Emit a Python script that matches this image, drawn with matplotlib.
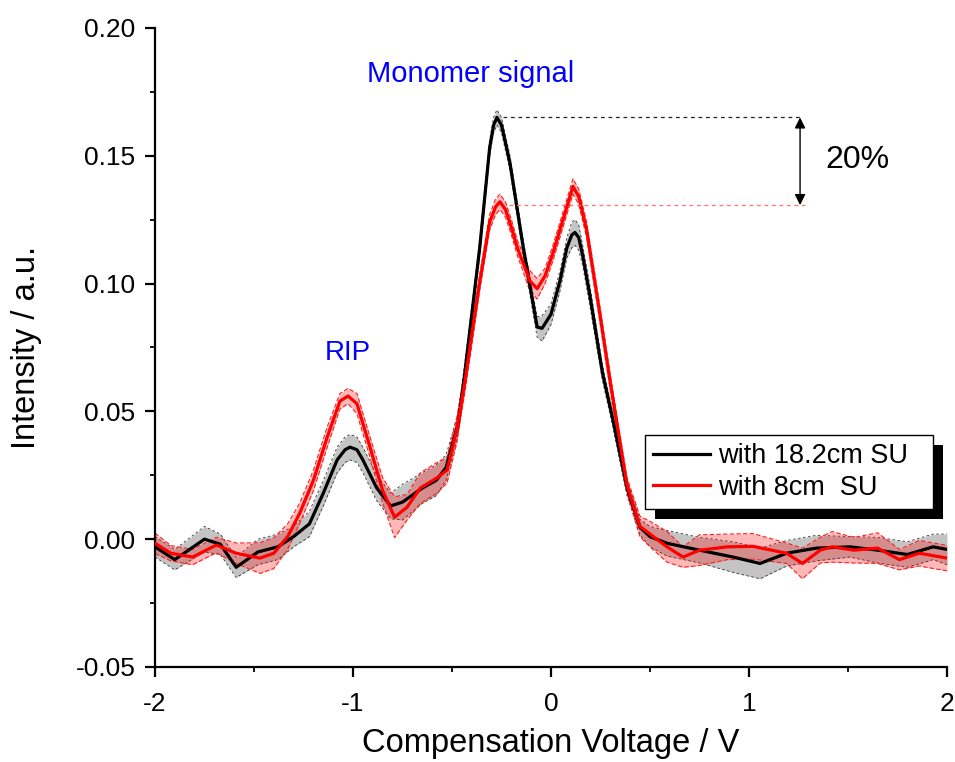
# CV scan: monomer signal with two separation unit lengths
import matplotlib
matplotlib.use("Agg")
from matplotlib import pyplot as plt
from matplotlib.patches import Rectangle
from matplotlib.transforms import IdentityTransform
from matplotlib.ticker import MultipleLocator, FormatStrFormatter
import numpy as np

plt.rcParams['font.family'] = ['Liberation Sans', 'DejaVu Sans']
plt.rcParams['axes.unicode_minus'] = False

# with 18.2cm SU (mean and spread)
black_x = [-2.00, -1.90, -1.75, -1.67, -1.59, -1.48, -1.38, -1.30, -1.22, -1.15,
           -1.08, -1.04, -1.015, -0.98, -0.95, -0.88, -0.81, -0.75, -0.65, -0.58,
           -0.53, -0.47, -0.44, -0.40, -0.36, -0.31, -0.29, -0.273, -0.25, -0.207,
           -0.14, -0.07, -0.045, 0.0, 0.045, 0.08, 0.105, 0.121, 0.14, 0.16,
           0.197, 0.26, 0.313, 0.384, 0.449, 0.50, 0.586, 0.75, 0.92, 1.056,
           1.19, 1.34, 1.51, 1.65, 1.80, 1.93, 2.00]
black_y = [-0.003, -0.008, 0.000, -0.002, -0.011, -0.005, -0.003, 0.001, 0.006, 0.018,
           0.031, 0.035, 0.036, 0.035, 0.031, 0.020, 0.013, 0.0145, 0.020, 0.023,
           0.028, 0.045, 0.062, 0.088, 0.114, 0.153, 0.162, 0.165, 0.162, 0.147,
           0.114, 0.083, 0.0825, 0.088, 0.101, 0.114, 0.119, 0.120, 0.118, 0.111,
           0.095, 0.065, 0.0466, 0.020, 0.0047, 0.001, -0.0016, -0.0043, -0.007, -0.0095,
           -0.0055, -0.0035, -0.003, -0.0043, -0.006, -0.003, -0.004]
black_sd = [0.004, 0.004, 0.005, 0.004, 0.004, 0.005, 0.005, 0.004, 0.005, 0.005,
            0.005, 0.005, 0.005, 0.005, 0.005, 0.005, 0.005, 0.007, 0.006, 0.006,
            0.005, 0.004, 0.004, 0.003, 0.003, 0.003, 0.003, 0.003, 0.003, 0.003,
            0.003, 0.004, 0.005, 0.004, 0.004, 0.004, 0.005, 0.005, 0.005, 0.004,
            0.004, 0.003, 0.003, 0.003, 0.003, 0.004, 0.005, 0.005, 0.006, 0.006,
            0.005, 0.005, 0.004, 0.005, 0.005, 0.005, 0.006]

# with 8cm SU (mean and spread)
red_x = [-2.00, -1.92, -1.81, -1.69, -1.59, -1.47, -1.40, -1.33, -1.27, -1.20,
         -1.13, -1.066, -1.025, -0.98, -0.914, -0.85, -0.79, -0.727, -0.66, -0.576,
         -0.525, -0.475, -0.434, -0.40, -0.359, -0.31, -0.28, -0.258, -0.23, -0.20,
         -0.17, -0.106, -0.07, -0.03, 0.01, 0.08, 0.111, 0.14, 0.18, 0.247,
         0.298, 0.384, 0.449, 0.50, 0.586, 0.667, 0.75, 0.89, 1.02, 1.19,
         1.27, 1.36, 1.42, 1.53, 1.65, 1.76, 1.86, 2.00]
red_y = [-0.0016, -0.0055, -0.007, -0.0023, -0.0055, -0.0074, -0.0055, 0.001, 0.010, 0.023,
         0.040, 0.054, 0.056, 0.053, 0.036, 0.019, 0.0086, 0.0125, 0.020, 0.024,
         0.027, 0.043, 0.062, 0.080, 0.101, 0.124, 0.130, 0.132, 0.129, 0.122,
         0.114, 0.101, 0.098, 0.103, 0.112, 0.130, 0.138, 0.134, 0.121, 0.088,
         0.062, 0.021, 0.005, 0.002, -0.003, -0.007, -0.0043, -0.003, -0.0028, -0.0055,
         -0.0095, -0.0043, -0.003, -0.0043, -0.0035, -0.008, -0.0055, -0.0074]
red_sd = [0.004, 0.003, 0.003, 0.003, 0.004, 0.006, 0.006, 0.005, 0.004, 0.004,
          0.004, 0.003, 0.003, 0.004, 0.004, 0.005, 0.008, 0.005, 0.006, 0.006,
          0.005, 0.005, 0.004, 0.004, 0.003, 0.003, 0.003, 0.003, 0.003, 0.003,
          0.003, 0.004, 0.004, 0.003, 0.003, 0.003, 0.003, 0.003, 0.003, 0.003,
          0.003, 0.003, 0.004, 0.005, 0.006, 0.004, 0.006, 0.005, 0.005, 0.004,
          0.006, 0.005, 0.006, 0.005, 0.006, 0.004, 0.005, 0.005]

labels = ['with 18.2cm SU', 'with 8cm  SU']

fig = plt.figure(figsize=(9.55, 7.62), dpi=100)
ax = fig.add_axes([0.1623, 0.1247, 0.8293, 0.8386])

bx, by, bs = np.array(black_x), np.array(black_y), np.array(black_sd)
rx, ry, rs = np.array(red_x), np.array(red_y), np.array(red_sd)

# spread bands
ax.fill_between(bx, by - bs, by + bs, color='#c4c4c4', lw=0, zorder=1)
ax.plot(bx, by + bs, color='#333333', lw=0.6, ls=(0, (3, 3)), zorder=1.1)
ax.plot(bx, by - bs, color='#333333', lw=0.6, ls=(0, (3, 3)), zorder=1.1)
ax.fill_between(rx, ry - rs, ry + rs, color='#ff0000', alpha=0.28, lw=0, zorder=2)
ax.plot(rx, ry + rs, color='#ff2020', lw=0.8, ls=(0, (4, 2)), zorder=2.1)
ax.plot(rx, ry - rs, color='#ff2020', lw=0.8, ls=(0, (4, 2)), zorder=2.1)

# mean curves
ax.plot(bx, by, color='black', lw=2.3, label=labels[0], zorder=3)
ax.plot(rx, ry, color='#ff0000', lw=2.3, label=labels[1], zorder=4)

# 20% difference marker
black_peak = max(black_y)
red_peak = max(y for x, y in zip(red_x, red_y) if x < 0)
arrow_x = 1.258
ax.plot([-0.24, arrow_x], [black_peak, black_peak], color='#222222', lw=0.9,
        ls=(0, (3, 3)), zorder=5)
ax.plot([-0.21, arrow_x + 0.025], [red_peak - 0.0013, red_peak - 0.0013], color='#ff7070',
        lw=0.9, ls=(0, (3, 3)), zorder=5)
ax.annotate('', xy=(arrow_x, black_peak), xytext=(arrow_x, red_peak - 0.0013),
            arrowprops=dict(arrowstyle='<|-|>', color='black', lw=1.0,
                            mutation_scale=16, shrinkA=0, shrinkB=0), zorder=6)
ax.text(1.549, 0.1452, '20%', fontsize=23, ha='center', va='baseline')

ax.text(-0.404, 0.1788, 'Monomer signal', fontsize=21, color='#0000ff',
        ha='center', va='baseline')
ax.text(-1.025, 0.070, 'RIP', fontsize=20, color='#0000ff', ha='center', va='baseline')

ax.set_xlim(-2, 2)
ax.set_ylim(-0.05, 0.20)
ax.xaxis.set_major_locator(MultipleLocator(1))
ax.xaxis.set_minor_locator(MultipleLocator(0.5))
ax.yaxis.set_major_locator(MultipleLocator(0.05))
ax.yaxis.set_minor_locator(MultipleLocator(0.025))
ax.xaxis.set_major_formatter(FormatStrFormatter('%d'))
ax.yaxis.set_major_formatter(FormatStrFormatter('%.2f'))

for side in ['top', 'right']:
    ax.spines[side].set_visible(False)
for side in ['left', 'bottom']:
    ax.spines[side].set_linewidth(1.6)

ax.tick_params(which='major', direction='out', length=7, width=1.6, labelsize=19)
ax.tick_params(axis='y', which='major', pad=7)
ax.tick_params(axis='x', which='major', pad=11)
ax.tick_params(which='minor', direction='out', length=3.8, width=1.3)

ax.set_xlabel('Compensation Voltage / V', fontsize=23.5, labelpad=9)
ax.set_ylabel('Intensity / a.u.', fontsize=23.5, labelpad=24)

leg = ax.legend(loc='upper left', bbox_to_anchor=(0.619, 0.2535, 0.363, 0.1095),
                mode='expand', borderaxespad=0,
                fontsize=19.5, frameon=True, fancybox=False, edgecolor='black',
                framealpha=1, handlelength=2.1, handletextpad=0.3, borderpad=0.3,
                labelspacing=0.2)
leg.get_frame().set_linewidth(1.0)
leg.set_zorder(10)

# solid drop shadow behind the legend box
fig.canvas.draw()
bb = leg.get_window_extent()
shadow = Rectangle((bb.x0 + 10, bb.y0 - 10), bb.width, bb.height,
                   transform=IdentityTransform(), facecolor='black', edgecolor='none',
                   zorder=9)
ax.add_patch(shadow)

fig.savefig('out.png', dpi=100)
